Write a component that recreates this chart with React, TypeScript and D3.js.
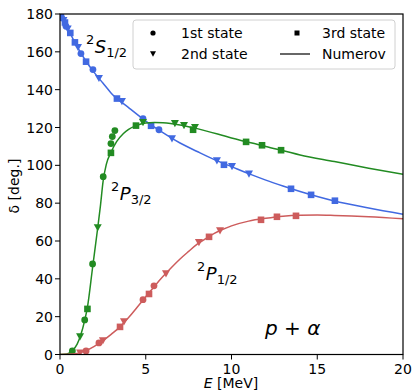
import React from "react";
import * as d3 from "d3";

type P = [number, number];

// 2S1/2 (blue)
const s12First: P[] = [[0.1, 178], [0.35, 173.5], [1.22, 159.1], [1.92, 150.6], [4.84, 124.7], [5.77, 118.8]];
const s12Second: P[] = [[0.2, 176.5], [0.45, 172], [1.05, 162.3], [2.27, 145.9], [3.61, 133.7], [6.53, 114], [9.15, 102.4], [10.03, 99.3], [11.02, 95.4]];
const s12Third: P[] = [[0.05, 179], [0.29, 175.5], [0.6, 170], [0.87, 165], [1.52, 154.8], [3.32, 135.3], [5.31, 120.9], [9.56, 100.3], [13.47, 87.6], [14.64, 84.4], [16.03, 81.3]];
const s12Curve: P[] = [[0, 180], [0.25, 176], [0.5, 171.5], [0.75, 167], [1, 162.8], [1.5, 155.3], [2, 149], [2.5, 143.5], [3, 138], [4, 130.5], [5, 123.4], [6, 117.3], [7, 111.8], [8, 107.3], [9, 103], [10, 99.3], [11, 95.6], [12, 92.2], [13, 89.1], [14, 86.2], [16, 81.2], [18, 77.5], [20, 74.2]];

// 2P3/2 (green)
const p32First: P[] = [[0.72, 1.9], [1.44, 18.3], [1.9, 47.9], [2.52, 94], [2.97, 111.5], [3.05, 115.2], [3.2, 118.4]];
const p32Second: P[] = [[1.17, 9.3], [2.2, 67], [4.84, 122.6], [6.7, 122.1], [7.23, 121], [7.87, 120]];
const p32Third: P[] = [[1.6, 24.1], [2.97, 106.6], [4.43, 121], [7.76, 118.8], [10.85, 112.4], [11.78, 110.6], [12.89, 108]];
const p32Curve: P[] = [[0, 0], [0.4, 0.3], [0.7, 1.8], [1, 5.5], [1.2, 10], [1.44, 18], [1.6, 25], [1.9, 46], [2.2, 67], [2.35, 78], [2.52, 92], [2.7, 100.5], [2.97, 106.8], [3.3, 112.5], [3.7, 116.8], [4, 119], [4.43, 121], [5, 122.4], [5.5, 122.7], [6, 122.5], [7, 121.3], [8, 119.4], [10, 114.5], [12, 110], [14, 105.5], [16, 102], [18, 98.5], [20, 95.3]];

// 2P1/2 (red)
const p12First: P[] = [[1.52, 1.9], [2.27, 6.1], [4.84, 29], [5.48, 36.3]];
const p12Second: P[] = [[1.17, 0.8], [2.5, 7.2], [3.73, 17.2], [6.18, 42.6], [8.1, 59.1], [9.33, 65.4]];
const p12Third: P[] = [[3.5, 14.6], [5.19, 32], [8.69, 62.2], [11.72, 71.2], [12.65, 72.8], [13.76, 73.3]];
const p12Curve: P[] = [[0, 0], [0.5, 0.1], [1, 0.6], [1.5, 2], [2, 4.3], [2.5, 7.3], [3, 10.8], [3.5, 14.6], [4, 19.5], [4.5, 25], [5, 30.5], [5.5, 36], [6, 41.2], [6.5, 46], [7, 50.5], [7.5, 54.5], [8, 58.3], [8.5, 61.3], [9, 64], [9.5, 66.2], [10, 68], [11, 70.5], [12, 72], [13, 73.1], [14, 73.6], [15, 73.7], [16, 73.5], [18, 72.8], [20, 71.7]];

const xTicks = [0, 5, 10, 15, 20];
const yTicks = [0, 20, 40, 60, 80, 100, 120, 140, 160, 180];

const BLUE = "#4169e1";
const GREEN = "#228b22";
const RED = "#cd5c5c";
const FONT = "DejaVu Sans, sans-serif";
const FS = 14;

const W = 412, H = 392;
const L = 60, R = 403, T = 14, B = 354.5;

const x = d3.scaleLinear().domain([0, 20]).range([L, R]);
const y = d3.scaleLinear().domain([0, 180]).range([B, T]);
const line = d3.line<P>().x(d => x(d[0])).y(d => y(d[1])).curve(d3.curveMonotoneX);

function Circle({ cx, cy, r, fill }: { cx: number; cy: number; r: number; fill: string }) {
  return <circle cx={cx} cy={cy} r={r} fill={fill} />;
}
function Tri({ cx, cy, s, fill }: { cx: number; cy: number; s: number; fill: string }) {
  const h = s * 0.9;
  return <path d={`M${cx - s / 2},${cy - h / 2}L${cx + s / 2},${cy - h / 2}L${cx},${cy + h / 2}Z`} fill={fill} />;
}
function Sq({ cx, cy, s, fill }: { cx: number; cy: number; s: number; fill: string }) {
  return <rect x={cx - s / 2} y={cy - s / 2} width={s} height={s} fill={fill} />;
}

function Series({ curve, first, second, third, color }: { curve: P[]; first: P[]; second: P[]; third: P[]; color: string }) {
  return (
    <g>
      <path d={line(curve) || ""} fill="none" stroke={color} strokeWidth={1.5} />
      {first.map((d, i) => <Circle key={"c" + i} cx={x(d[0])} cy={y(d[1])} r={3.4} fill={color} />)}
      {second.map((d, i) => <Tri key={"t" + i} cx={x(d[0])} cy={y(d[1])} s={8} fill={color} />)}
      {third.map((d, i) => <Sq key={"s" + i} cx={x(d[0])} cy={y(d[1])} s={6.6} fill={color} />)}
    </g>
  );
}

function StateLabel({ xPos, yBase, letter, sub }: { xPos: number; yBase: number; letter: string; sub: string }) {
  return (
    <text x={xPos} y={yBase} fontFamily={FONT} fill="#000">
      <tspan fontSize={13} dy={-9}>2</tspan>
      <tspan fontSize={18} fontStyle="italic" dy={9} dx={0.5}>{letter}</tspan>
      <tspan fontSize={13} dy={4}>{sub}</tspan>
    </text>
  );
}

export default function App() {
  return (
    <svg width={W} height={H} style={{ position: "absolute", left: 0, top: 0 }}>
      <rect x={0} y={0} width={W} height={H} fill="#fff" />
      <defs>
        <clipPath id="plot"><rect x={L} y={T} width={R - L} height={B - T} /></clipPath>
      </defs>
      <g clipPath="url(#plot)">
        <Series curve={s12Curve} first={s12First} second={s12Second} third={s12Third} color={BLUE} />
        <Series curve={p32Curve} first={p32First} second={p32Second} third={p32Third} color={GREEN} />
        <Series curve={p12Curve} first={p12First} second={p12Second} third={p12Third} color={RED} />
      </g>
      <rect x={L} y={T} width={R - L} height={B - T} fill="none" stroke="#000" strokeWidth={1.2} />
      {xTicks.map(t => (
        <g key={"x" + t}>
          <line x1={x(t)} x2={x(t)} y1={B} y2={B + 5} stroke="#000" strokeWidth={1} />
          <text x={x(t)} y={B + 19} textAnchor="middle" fontFamily={FONT} fontSize={FS}>{t}</text>
        </g>
      ))}
      {yTicks.map(t => (
        <g key={"y" + t}>
          <line x1={L - 5} x2={L} y1={y(t)} y2={y(t)} stroke="#000" strokeWidth={1} />
          <text x={L - 7} y={y(t) + 5} textAnchor="end" fontFamily={FONT} fontSize={FS}>{t}</text>
        </g>
      ))}
      <text x={231} y={388} textAnchor="middle" fontFamily={FONT} fontSize={FS}>
        <tspan fontStyle="italic">E</tspan> [MeV]
      </text>
      <text transform="translate(19,186) rotate(-90)" textAnchor="middle" fontFamily={FONT} fontSize={FS}>
        δ [deg.]
      </text>

      <StateLabel xPos={86} yBase={53} letter="S" sub="1/2" />
      <StateLabel xPos={111} yBase={200} letter="P" sub="3/2" />
      <StateLabel xPos={197} yBase={280} letter="P" sub="1/2" />
      <text x={265} y={335} fontFamily={FONT} fontSize={20} fontStyle="italic">p<tspan fontStyle="normal"> + </tspan>α</text>

      <g>
        <rect x={133} y={20} width={262} height={49} rx={3} fill="#fff" fillOpacity={0.8} stroke="#d0d0d0" strokeWidth={1} />
        <Circle cx={153} cy={33} r={2.6} fill="#000" />
        <text x={181} y={38} fontFamily={FONT} fontSize={FS}>1st state</text>
        <Tri cx={153} cy={54} s={6} fill="#000" />
        <text x={181} y={59} fontFamily={FONT} fontSize={FS}>2nd state</text>
        <Sq cx={297} cy={33} s={5} fill="#000" />
        <text x={322} y={38} fontFamily={FONT} fontSize={FS}>3rd state</text>
        <line x1={280} x2={310} y1={54} y2={54} stroke="#000" strokeWidth={1.2} />
        <text x={322} y={59} fontFamily={FONT} fontSize={FS}>Numerov</text>
      </g>
    </svg>
  );
}
